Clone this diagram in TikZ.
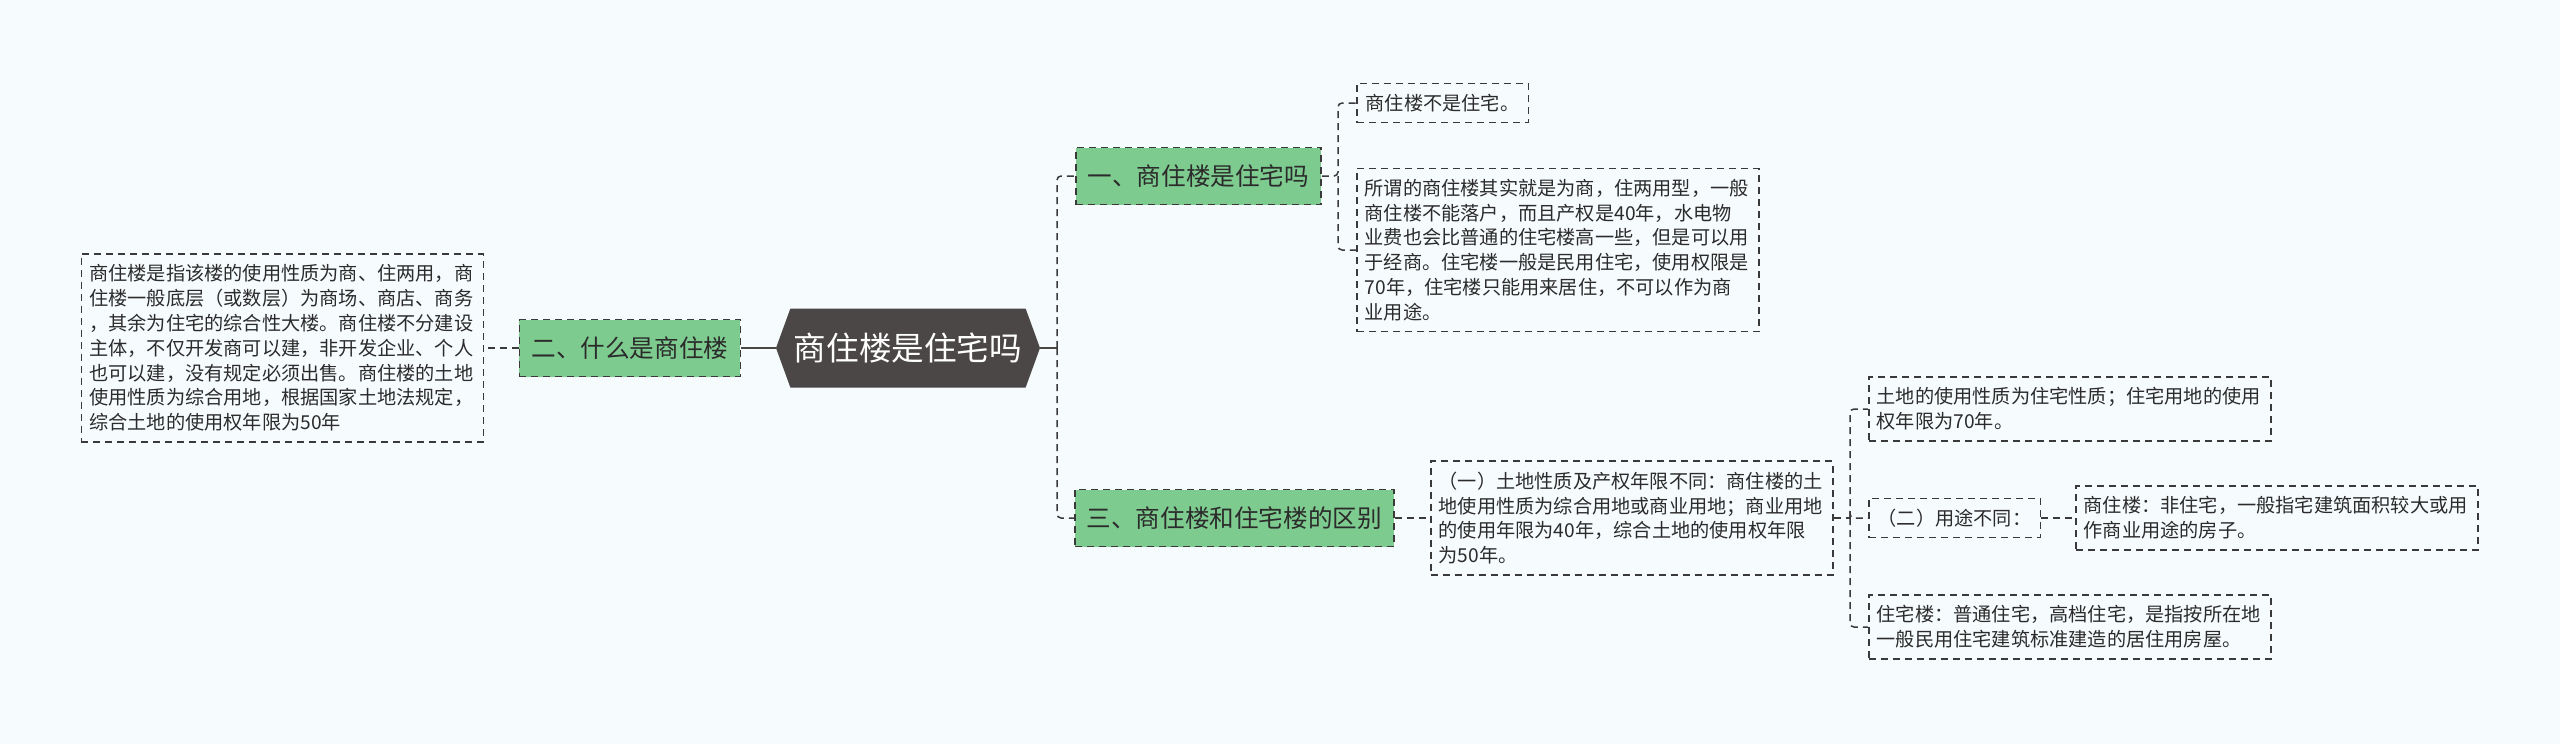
\documentclass[tikz,border=0pt]{standalone}
\usepackage{fontspec}
\setmainfont{Noto Sans CJK SC}
\usetikzlibrary{shapes.symbols}
\definecolor{bgcol}{HTML}{F6FBFD}
\definecolor{leaf}{HTML}{7ECB8F}
\definecolor{hubcol}{HTML}{4B4746}
\definecolor{ink}{HTML}{2B2B2B}
\definecolor{edge}{HTML}{3A3A3A}
\begin{document}
\begin{tikzpicture}[
        x=0.5pt, y=-0.5pt,
        root/.style={shape=signal, signal to=west and east, signal pointer angle=140, fill=hubcol, text=white, minimum width=132pt, minimum height=39.5pt, inner sep=0pt, font=\fontsize{16.3pt}{18pt}\selectfont},
        topic/.style={rectangle, draw=edge, line width=0.75pt, dash pattern=on 3.5pt off 2.5pt, fill=leaf, text=ink, minimum height=28.5pt, inner xsep=6pt, inner ysep=0pt, font=\fontsize{12.3pt}{14pt}\selectfont},
        tag/.style={rectangle, draw=edge, line width=0.75pt, dash pattern=on 3.5pt off 2.5pt, text=ink, inner xsep=4.5pt, inner ysep=5.3pt, font=\fontsize{9.6pt}{12.4pt}\selectfont},
        note/.style={tag, text width=193pt, inner xsep=4pt, align=left},
        link/.style={draw=edge, line width=0.75pt, dash pattern=on 3.5pt off 2.5pt, rounded corners=2pt},
        trunk/.style={draw=hubcol, line width=1.2pt}
    ]
    \fill[bgcol] (0,0) rectangle (2560,744);
    \node[root] (root) at (908,348) {商住楼是住宅吗};
    \node[topic, anchor=east] (sec2) at (741,348) {二、什么是商住楼};
    \node[note, anchor=east] (def) at (484,348) {
        商住楼是指该楼的使用性质为商、住两用，商\\
        住楼一般底层（或数层）为商场、商店、商务\\
        ，其余为住宅的综合性大楼。商住楼不分建设\\
        主体，不仅开发商可以建，非开发企业、个人\\
        也可以建，没有规定必须出售。商住楼的土地\\
        使用性质为综合用地，根据国家土地法规定，\\
        综合土地的使用权年限为50年
    };
    \node[topic, anchor=west] (sec1) at (1075,176) {一、商住楼是住宅吗};
    \node[tag, anchor=west] (notres) at (1356,103) {商住楼不是住宅。};
    \node[note, anchor=west] (why) at (1356,250) {
        所谓的商住楼其实就是为商，住两用型，一般\\
        商住楼不能落户，而且产权是40年，水电物\\
        业费也会比普通的住宅楼高一些，但是可以用\\
        于经商。住宅楼一般是民用住宅，使用权限是\\
        70年，住宅楼只能用来居住，不可以作为商\\
        业用途。
    };
    \node[topic, anchor=west] (sec3) at (1074,518) {三、商住楼和住宅楼的区别};
    \node[note, anchor=west] (diff1) at (1430,518) {
        （一）土地性质及产权年限不同：商住楼的土\\
        地使用性质为综合用地或商业用地；商业用地\\
        的使用年限为40年，综合土地的使用权年限\\
        为50年。
    };
    \node[note, anchor=west] (land) at (1868,409) {
        土地的使用性质为住宅性质；住宅用地的使用\\
        权年限为70年。
    };
    \node[tag, anchor=west] (use2) at (1868,518) {（二）用途不同：};
    \node[note, anchor=west] (shop) at (2075,518) {
        商住楼：非住宅，一般指宅建筑面积较大或用\\
        作商业用途的房子。
    };
    \node[note, anchor=west] (home) at (1868,627) {
        住宅楼：普通住宅，高档住宅，是指按所在地\\
        一般民用住宅建筑标准建造的居住用房屋。
    };
    \coordinate (hubA) at (1057,348);
    \coordinate (hubB) at (1338,176);
    \coordinate (hubC) at (1850,518);
    \draw[trunk] (root.east) -- (hubA);
    \draw[trunk] (root.west) -- (sec2.east);
    \draw[link] (sec2.west) -- (def.east);
    \draw[link] (hubA) |- (sec1.west);
    \draw[link] (hubA) |- (sec3.west);
    \draw[link] (sec1.east) -- (hubB) |- (notres.west);
    \draw[link] (hubB) |- (why.west);
    \draw[link] (sec3.east) -- (diff1.west);
    \draw[link] (diff1.east) -- (hubC);
    \foreach \n in {land,use2,home}
        \draw[link] (hubC) |- (\n.west);
    \draw[link] (use2.east) -- (shop.west);
\end{tikzpicture}
\end{document}
